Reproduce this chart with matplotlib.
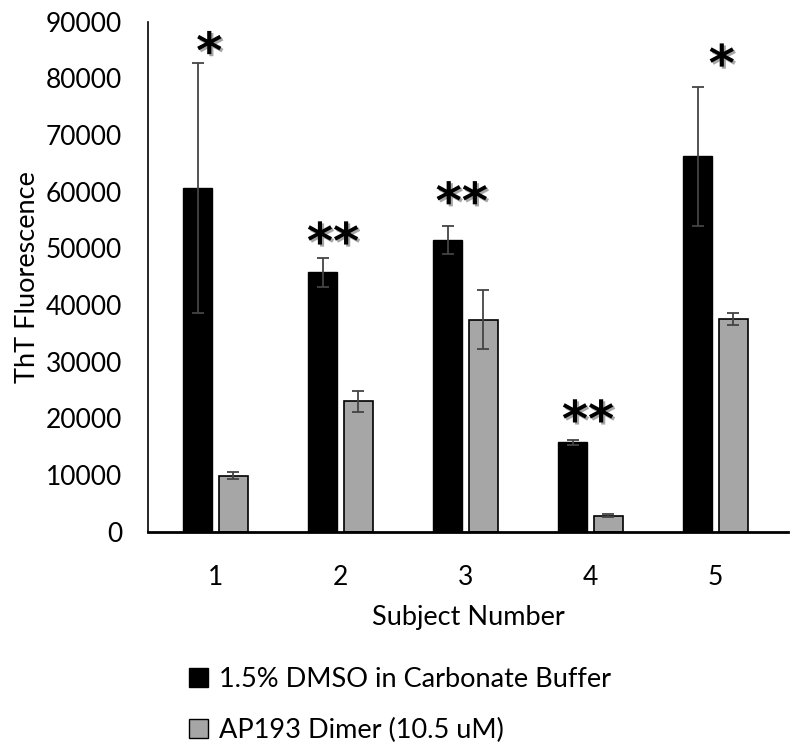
import numpy as np
import matplotlib.pyplot as plt
import matplotlib.patheffects as pe
from matplotlib.patches import Patch

# datos
sujetos = ["1", "2", "3", "4", "5"]
dmso = [60650, 45760, 51500, 15760, 66230]
dmso_err = [22100, 2500, 2400, 440, 12300]
dimero = [9900, 23000, 37400, 2820, 37600]
dimero_err = [580, 1800, 5200, 300, 1060]
marcas = ["*", "**", "**", "**", "*"]
marcas_y = [84300, 50700, 57800, 19300, 82100]

nombre_dmso = "1.5% DMSO in Carbonate Buffer"
nombre_dimero = "AP193 Dimer (10.5 uM)"

plt.rcParams['font.family'] = ['Lato', 'DejaVu Sans']

fig = plt.figure(figsize=(8, 7.5), dpi=100)
ax = fig.add_axes([0.185, 0.291, 0.80, 0.68])

x = np.arange(len(sujetos))
ancho = 0.23
sep = 0.028

ax.bar(x - ancho / 2 - sep, dmso, ancho, color='black', edgecolor='black',
       yerr=dmso_err, error_kw=dict(ecolor='#444444', elinewidth=1.3, capsize=4, capthick=1.3))
ax.bar(x + ancho / 2 + sep, dimero, ancho, color='#a6a6a6', edgecolor='black', linewidth=1.2,
       yerr=dimero_err, error_kw=dict(ecolor='#444444', elinewidth=1.3, capsize=4, capthick=1.3))

# asteriscos de significancia
desplaz = [-0.05, -0.06, -0.03, -0.02, 0.05]
for i, (m, yy) in enumerate(zip(marcas, marcas_y)):
    ax.text(x[i] + desplaz[i], yy, m, ha='center', va='center', fontsize=36,
            fontweight='bold', color='black', family='DejaVu Sans',
            path_effects=[pe.withSimplePatchShadow(offset=(1.5, -1.5), alpha=0.35)])

ax.set_xlim(-0.54, 4.58)
ax.set_ylim(0, 90000)
ax.set_yticks(np.arange(0, 90001, 10000))
ax.set_xticks(x)
ax.set_xticklabels(sujetos)
ax.tick_params(axis='y', length=0, pad=18.5, labelsize=19)
ax.tick_params(axis='x', length=0, pad=24, labelsize=19)

for lado in ['top', 'right']:
    ax.spines[lado].set_visible(False)
ax.spines['left'].set_linewidth(1.2)
ax.spines['bottom'].set_linewidth(2.0)

ax.set_ylabel("ThT Fluorescence", fontsize=19.5, labelpad=4)
ax.set_xlabel("Subject Number", fontsize=19.5, labelpad=11)

handles = [Patch(facecolor='black', edgecolor='black'),
           Patch(facecolor='#a6a6a6', edgecolor='black')]
fig.legend(handles, [nombre_dmso, nombre_dimero], loc='upper left',
           bbox_to_anchor=(0.236, 0.111), frameon=False, fontsize=19.5,
           handlelength=0.7, handleheight=0.7, handletextpad=0.4,
           labelspacing=0.95, borderaxespad=0, borderpad=0)

fig.savefig("out.png", dpi=100)
